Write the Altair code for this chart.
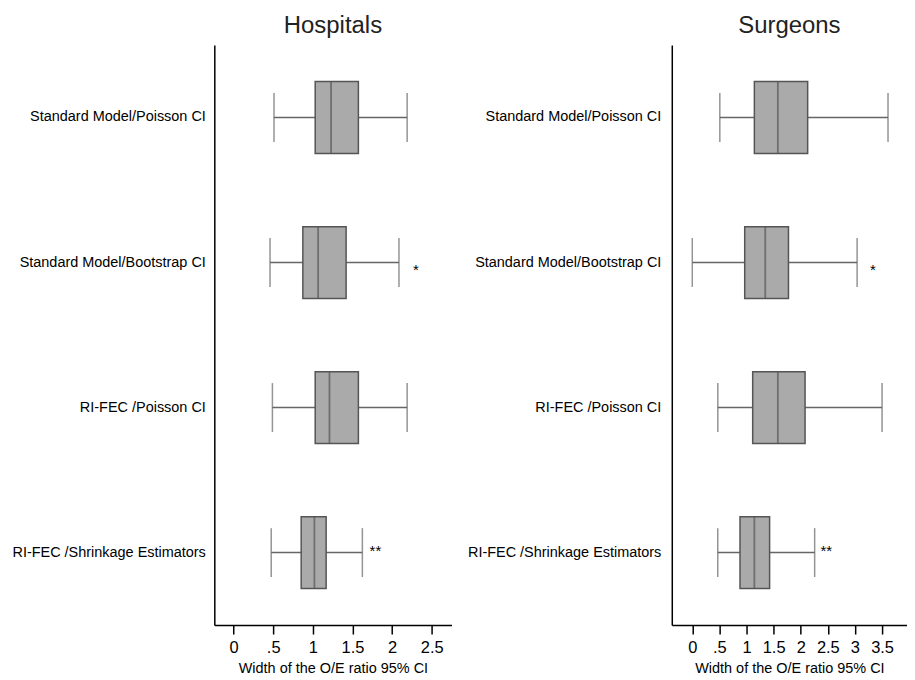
import altair as alt
import pandas as pd

rows = ["Standard Model/Poisson CI", "Standard Model/Bootstrap CI",
        "RI-FEC /Poisson CI", "RI-FEC /Shrinkage Estimators"]

hosp_lo = [0.51, 0.46, 0.49, 0.475]
hosp_q1 = [1.03, 0.874, 1.03, 0.853]
hosp_med = [1.23, 1.067, 1.21, 1.02]
hosp_q3 = [1.575, 1.42, 1.575, 1.168]
hosp_hi = [2.19, 2.087, 2.19, 1.625]
hosp_star = ["", "*", "", "**"]
hosp_star_x = [None, 2.30, None, 1.79]

surg_lo = [0.508, 0.0, 0.471, 0.47]
surg_q1 = [1.145, 0.967, 1.114, 0.88]
surg_med = [1.578, 1.346, 1.578, 1.145]
surg_q3 = [2.128, 1.774, 2.08, 1.426]
surg_hi = [3.61, 3.04, 3.5, 2.257]
surg_star = ["", "*", "", "**"]
surg_star_x = [None, 3.33, None, 2.47]

hosp_ticks = [0, 0.5, 1, 1.5, 2, 2.5]
surg_ticks = [0, 0.5, 1, 1.5, 2, 2.5, 3, 3.5]
hosp_domain = [-0.243, 2.75]
surg_domain = [-0.378, 3.96]

FONT = "Liberation Sans"
FILL = "#aaaaaa"
EDGE = "#555555"
WHISK = "#666666"


def panel(title, lo, q1, med, q3, hi, star, star_x, ticks, domain, width, label_pad):
    df = pd.DataFrame({"row": rows, "lo": lo, "q1": q1, "med": med,
                       "q3": q3, "hi": hi, "star": star, "star_x": star_x})
    xscale = alt.Scale(domain=domain, nice=False, zero=False)
    xaxis = alt.Axis(values=ticks, tickSize=9, tickColor="black", tickWidth=1.5,
                     domainColor="black", domainWidth=1.5, labelFontSize=16.5,
                     labelPadding=6, labelColor="black", labelFont=FONT,
                     labelOverlap=False, labelBound=False, labelFlush=False,
                     labelExpr="datum.value == 0.5 ? '.5' : format(datum.value, '~g')",
                     title="Width of the O/E ratio 95% CI", titleFontSize=14.5,
                     titleFont=FONT, titleFontWeight="normal", titleColor="black",
                     titlePadding=5, grid=False)

    def X(field):
        return alt.X(field, type="quantitative", scale=xscale, axis=xaxis,
                     title="Width of the O/E ratio 95% CI")

    yenc = alt.Y("row:N", sort=rows, title=None,
                 scale=alt.Scale(paddingInner=0, paddingOuter=0),
                 axis=alt.Axis(ticks=False, labelPadding=label_pad, labelFontSize=14.5,
                               labelFont=FONT, labelColor="black", domainColor="black",
                               domainWidth=1.5, labelLimit=400, grid=False))
    base = alt.Chart(df)
    whisk = base.mark_rule(color=WHISK, strokeWidth=1.5).encode(
        x=X("lo"), x2="hi:Q", y=yenc)
    cap_lo = base.mark_tick(color=WHISK, thickness=1.5, size=49).encode(
        x=X("lo"), y=yenc)
    cap_hi = base.mark_tick(color=WHISK, thickness=1.5, size=49).encode(
        x=X("hi"), y=yenc)
    box = base.mark_bar(fill=FILL, stroke=EDGE, strokeWidth=1.5, size=72).encode(
        x=X("q1"), x2="q3:Q", y=yenc)
    median = base.mark_tick(color=EDGE, thickness=1.8, size=72).encode(
        x=X("med"), y=yenc)
    s1 = base.transform_filter("datum.star == '*'").mark_text(
        font=FONT, fontSize=15, color="black", baseline="middle", dy=8).encode(
        x=X("star_x"), y=yenc, text="star:N")
    s2 = base.transform_filter("datum.star == '**'").mark_text(
        font=FONT, fontSize=15, color="black", baseline="middle", dy=-2).encode(
        x=X("star_x"), y=yenc, text="star:N")
    return alt.layer(whisk, cap_lo, cap_hi, box, median, s1, s2).properties(
        width=width, height=582,
        title=alt.TitleParams(title, fontSize=24, font=FONT, fontWeight="normal",
                              color="#222222", offset=7, anchor="middle"))


left = panel("Hospitals", hosp_lo, hosp_q1, hosp_med, hosp_q3, hosp_hi,
             hosp_star, hosp_star_x, hosp_ticks, hosp_domain, 238, 9)
right = panel("Surgeons", surg_lo, surg_q1, surg_med, surg_q3, surg_hi,
              surg_star, surg_star_x, surg_ticks, surg_domain, 236, 11)

chart = alt.hconcat(left, right, spacing=221, bounds="flush").properties(
    padding={"left": 3, "top": 5, "right": 0, "bottom": 0},
    background="white"
).configure_view(stroke="transparent", strokeWidth=0)

chart.save("out.html", embed_options={"renderer": "svg", "actions": False})
